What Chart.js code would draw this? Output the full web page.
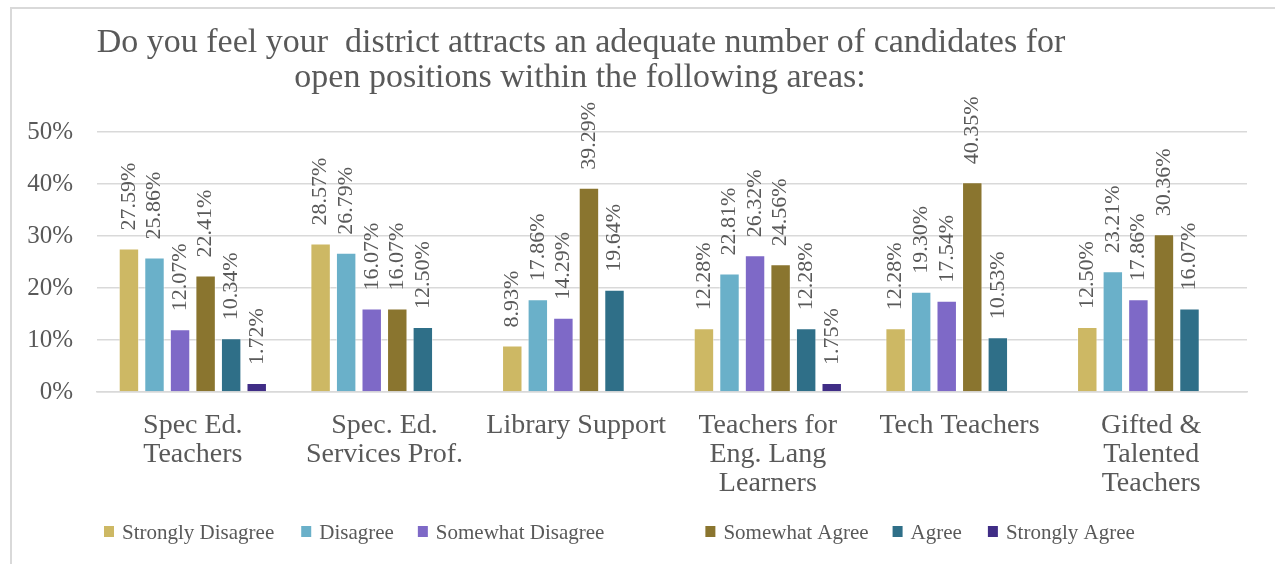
<!DOCTYPE html>
<html lang="en">
<head>
    <meta charset="UTF-8">
    <title>District Candidates</title>
    <script src="https://cdn.jsdelivr.net/npm/chart.js"></script>
    <style>
        body { margin: 0; overflow: hidden; background: #fff; }
        #frame { position: absolute; left: 10px; top: 7px; width: 1400px; height: 700px; border: 2px solid #d9d9d9; }
        #wrap { position: absolute; left: 0; top: 0; width: 1275px; height: 564px; }
    </style>
</head>
<body>
<div id="frame"></div>
<div id="wrap"><canvas id="surveyChart"></canvas></div>

<script>
    const titleLines = ['Do you feel your  district attracts an adequate number of candidates for',
                        'open positions within the following areas:'];
    const categories = [
        ['Spec Ed.', 'Teachers'],
        ['Spec. Ed.', 'Services Prof.'],
        'Library Support',
        ['Teachers for', 'Eng. Lang', 'Learners'],
        'Tech Teachers',
        ['Gifted &', 'Talented', 'Teachers']
    ];
    const stronglyDisagree = [27.59, 28.57, 8.93, 12.28, 12.28, 12.50];
    const disagree = [25.86, 26.79, 17.86, 22.81, 19.30, 23.21];
    const somewhatDisagree = [12.07, 16.07, 14.29, 26.32, 17.54, 17.86];
    const somewhatAgree = [22.41, 16.07, 39.29, 24.56, 40.35, 30.36];
    const agree = [10.34, 12.50, 19.64, 12.28, 10.53, 16.07];
    const stronglyAgree = [1.72, null, null, 1.75, null, null];
    const yTicks = [0, 10, 20, 30, 40, 50];

    const textColor = '#595959';
    const serif = '"Liberation Serif", "Times New Roman", serif';

    function series(label, data, color) {
        return {
            label: label,
            data: data,
            backgroundColor: color,
            borderColor: 'rgba(255,255,255,0.5)',
            borderWidth: 1,
            categoryPercentage: 0.8,
            barPercentage: 0.8
        };
    }

    // rotated value labels above each bar
    const barLabels = {
        id: 'barLabels',
        afterDatasetsDraw(chart) {
            const ctx = chart.ctx;
            ctx.save();
            ctx.fillStyle = textColor;
            ctx.font = '22px ' + serif;
            ctx.textAlign = 'left';
            ctx.textBaseline = 'middle';
            chart.data.datasets.forEach((ds, i) => {
                const meta = chart.getDatasetMeta(i);
                meta.data.forEach((bar, j) => {
                    const v = ds.data[j];
                    if (v === null || v === undefined) return;
                    ctx.save();
                    ctx.translate(bar.x, bar.y - 18);
                    ctx.rotate(-Math.PI / 2);
                    ctx.fillText(v.toFixed(2) + '%', 0, 0);
                    ctx.restore();
                });
            });
            ctx.restore();
        }
    };

    // title sits a bit left of centre, like the original
    const offsetTitle = {
        id: 'offsetTitle',
        afterDraw(chart) {
            const ctx = chart.ctx;
            ctx.save();
            ctx.fillStyle = textColor;
            ctx.font = '34px ' + serif;
            ctx.textAlign = 'center';
            ctx.textBaseline = 'alphabetic';
            ctx.fillText(titleLines[0], 581, 52);
            ctx.fillText(titleLines[1], 580, 87);
            ctx.restore();
        }
    };

    // legend drawn by hand: the original has uneven spacing between entries
    const legendGaps = [27, 24, 101, 24, 26];
    const sparseLegend = {
        id: 'sparseLegend',
        afterDraw(chart) {
            const ctx = chart.ctx;
            ctx.save();
            ctx.font = '21px ' + serif;
            ctx.textAlign = 'left';
            ctx.textBaseline = 'alphabetic';
            let x = 104;
            chart.data.datasets.forEach((ds, i) => {
                ctx.fillStyle = ds.backgroundColor;
                ctx.fillRect(x, 526, 10, 11);
                ctx.fillStyle = textColor;
                ctx.fillText(ds.label, x + 18, 539);
                x += 18 + ctx.measureText(ds.label).width + (legendGaps[i] || 0);
            });
            ctx.restore();
        }
    };

    const ctx = document.getElementById('surveyChart').getContext('2d');
    const surveyChart = new Chart(ctx, {
        type: 'bar',
        data: {
            labels: categories,
            datasets: [
                series('Strongly Disagree', stronglyDisagree, '#CDB864'),
                series('Disagree', disagree, '#6AB0C9'),
                series('Somewhat Disagree', somewhatDisagree, '#7E69C7'),
                series('Somewhat Agree', somewhatAgree, '#8A752F'),
                series('Agree', agree, '#2F6F88'),
                series('Strongly Agree', stronglyAgree, '#402D86')
            ]
        },
        options: {
            responsive: true,
            maintainAspectRatio: false,
            animation: false,
            layout: {
                padding: { left: 20, right: 28, top: 132, bottom: 70 }
            },
            plugins: {
                title: { display: false },
                tooltip: { enabled: false },
                legend: { display: false }
            },
            scales: {
                x: {
                    grid: { display: false },
                    border: { display: true, color: '#d9d9d9', width: 1.5 },
                    ticks: {
                        color: textColor,
                        padding: 11,
                        maxRotation: 0,
                        autoSkip: false,
                        font: { family: serif, size: 28, lineHeight: 1.04 }
                    },
                    afterFit(scale) { scale.height = 102; }
                },
                y: {
                    min: 0,
                    max: 50,
                    afterBuildTicks(scale) { scale.ticks = yTicks.map(v => ({ value: v })); },
                    grid: { color: '#d9d9d9', lineWidth: 1.5, drawTicks: false },
                    border: { display: false },
                    ticks: {
                        color: textColor,
                        padding: 24,
                        font: { family: serif, size: 25 },
                        callback: v => v + '%'
                    },
                    afterFit(scale) { scale.width = 77; }
                }
            }
        },
        plugins: [barLabels, offsetTitle, sparseLegend]
    });
</script>
</body>
</html>
